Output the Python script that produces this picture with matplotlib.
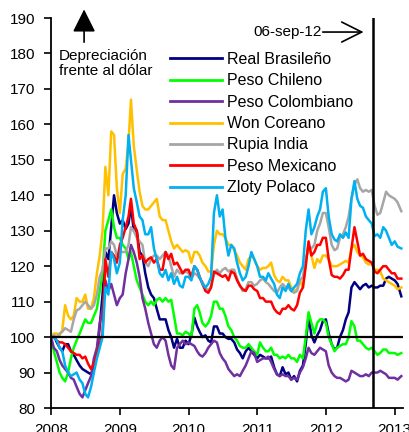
import datetime as dt
import matplotlib
matplotlib.use("Agg")
import matplotlib.pyplot as plt
import matplotlib.dates as mdates

plt.rcParams['font.family'] = ['Liberation Sans', 'DejaVu Sans']

# semi-monthly observations (1st and 16th of each month), index 2-ene-2008 = 100
dates = [dt.date(y, m, d) for y in range(2008, 2013) for m in range(1, 13) for d in (1, 16)]
dates += [dt.date(2013, 1, 1), dt.date(2013, 1, 16), dt.date(2013, 2, 5)]

real_brasileno = [
    100, 100.5, 98.5, 97, 96, 98, 98, 96, 95, 93.5, 92, 91, 90.5, 90, 89.5, 91.5, 95, 103, 112, 124, 122, 131, 140, 135,
    132, 133, 130.5, 132, 137, 130, 130, 124, 123, 118, 114, 112, 111, 108, 105, 105, 105, 102, 100, 97, 99.5, 97, 97, 99,
    98, 100.5, 105.5, 103, 101.5, 100, 100.5, 99, 98.5, 103, 103, 101, 101, 100, 99.5, 99.5, 98.5, 96.5, 95.5, 94, 96, 97, 96, 95,
    94, 95, 94.5, 94, 94, 94.5, 91.5, 89.5, 89, 91.5, 89.5, 90, 88, 89, 87.5, 90.5, 92, 98, 106, 100.5, 98.5, 100.5, 102, 104.5,
    105, 101, 98, 96.5, 97, 100, 102, 105, 107, 114, 115.5, 114.5, 113.5, 114.5, 115, 114, 114.5, 114, 114, 114.5, 114.5, 116.5, 117, 116.5,
    116, 115, 111.5]
peso_chileno = [
    100, 96, 93, 90, 88.5, 87.5, 90, 94, 97, 99, 101, 103, 105, 104, 104, 106, 108, 113, 118, 130, 133, 136, 131, 128,
    128, 126, 125, 122, 124, 120, 116, 114, 112, 110, 109, 110, 109, 110.5, 111, 110, 111, 110, 110.5, 106, 101, 101, 100.5, 101.5,
    101, 100, 108, 109, 107, 104, 103, 104, 106, 110, 110, 108, 108, 106, 103, 102, 100, 99, 97.5, 97, 97, 98, 97, 96,
    95, 98.5, 97, 96, 96, 97, 95, 95, 94, 94.5, 94, 95, 94, 94, 93, 95, 94, 100, 107, 104, 101, 104, 105, 105,
    104, 100, 98, 96, 97, 97.5, 98, 98, 100, 104.5, 103, 99, 99, 98, 97, 96.5, 97, 96, 95, 95.5, 96.5, 96.5, 95.5, 95.5,
    95.5, 95, 95.5]
peso_colombiano = [
    100, 97, 96, 93.5, 92, 91, 90, 88.5, 88, 86, 84, 83, 85, 87, 89, 94, 97, 104, 108, 116, 113, 115, 112, 109,
    111, 112, 118, 122, 126, 124, 121, 117, 111, 108, 104, 101, 98, 97, 99, 100, 99, 95, 92, 91, 97, 98, 99, 98,
    98.5, 98, 97.5, 96, 95, 94.5, 95.5, 97, 98, 99, 98.5, 95.5, 94, 93, 91, 90, 89, 89.5, 89, 90.5, 92, 94, 96, 95.5,
    93, 93.5, 94, 94, 94.5, 93, 91, 89.5, 89, 89.5, 89, 89, 88, 88.5, 88, 90, 91.5, 94, 97, 95.5, 95, 96, 97, 96.5,
    96, 92, 90, 89, 88.5, 88.5, 88, 87.5, 88, 90.5, 90, 89.5, 89, 89, 89.5, 89, 90, 90, 90, 90.5, 90, 89.5, 88.5, 88.5,
    88.5, 88, 89]
won_coreano = [
    100, 101, 101, 100.5, 102, 109, 106, 105, 106, 111, 110, 110, 112, 108, 108, 111, 118, 123, 130, 148, 140, 158, 157, 142,
    135, 146, 147.5, 155, 167, 154, 147, 141, 137, 136, 136, 137, 138, 139, 134, 133, 133, 130, 127, 125, 126, 125, 124, 124.5,
    124, 121, 124, 124, 123, 121, 120, 118.5, 118.5, 126, 130, 129, 129, 128, 126, 126, 124.5, 123, 121, 120, 119, 122, 123, 122,
    120, 119, 119.5, 119.5, 120, 121, 117.5, 116, 115.5, 117, 116, 116, 114, 113, 113.5, 116, 114, 121, 126, 123, 119.5, 122, 121, 123,
    123, 122, 120, 120, 120, 120.5, 121, 121.5, 121, 125, 126, 124, 123, 122.5, 121, 120.5, 121, 119, 119, 118.5, 116.5, 116, 115.5, 115,
    114.5, 113.5, 114]
rupia_india = [
    100, 100.5, 100, 101, 101.5, 102.5, 102, 101.5, 105, 107.5, 108, 109, 110, 109, 108, 109, 112, 117, 119, 125, 125, 127, 126, 123,
    124, 124, 124, 126, 131, 130, 128, 127, 126, 121, 120, 122, 123, 123, 122, 123, 124, 123, 120, 117, 119, 118, 118, 118.5,
    118, 116.5, 118, 117.5, 116.5, 115.5, 114, 113, 114.5, 117.5, 119, 118, 119, 119.5, 118.5, 119, 119, 116.5, 114.5, 113, 113.5, 115.5, 115.5, 114.5,
    115, 116, 116.5, 115.5, 115, 114, 113, 112.5, 114, 115, 114, 114, 113, 112.5, 113, 116, 117, 122, 125, 125, 126, 130, 132, 135,
    135, 131, 126, 124.5, 125, 128, 129, 131, 134, 139, 143, 144.5, 142, 141, 141.5, 141, 141.5, 137, 134.5, 135, 138, 141, 140, 139.5,
    139, 138, 135.5]
peso_mexicano = [
    100, 100, 99, 98.5, 98.5, 98, 97, 96, 95.5, 95, 95, 94, 94.5, 92.5, 91, 92.5, 95, 98, 101, 122, 117, 124, 123, 121,
    126, 128, 131, 134, 139, 132, 130, 122, 123, 121, 122, 122.5, 121, 122, 119, 119, 124, 122, 123.5, 120.5, 121, 119.5, 118, 119,
    119, 117, 120, 119, 117, 115, 113, 112.5, 114, 118.5, 118, 117.5, 117, 117.5, 116, 118.5, 118, 116, 114.5, 113.5, 113, 114.5, 114.5, 113.5,
    113, 111, 111, 110, 110, 110, 108, 107, 106.5, 108, 108, 109, 108, 107.5, 109, 112.5, 114, 120, 127, 123, 124, 126, 126, 128,
    128, 122, 117.5, 117, 117, 116.5, 117.5, 119, 119, 125, 131, 127, 123, 123.5, 122, 121.5, 121, 118.5, 118, 119, 120, 120, 119, 118,
    118, 116.5, 116.5]
zloty_polaco = [
    100, 100, 99, 97, 96, 92, 90, 89, 89.5, 90, 88, 87, 84, 83, 86, 90, 94, 97, 100, 114, 112, 124, 122, 118,
    121, 133, 140, 157, 150, 142, 138, 134, 133, 129, 129, 131, 125, 122, 118, 117, 119, 116, 118, 115, 117, 114.5, 114, 117,
    117, 116, 120, 119, 117, 115, 114, 115, 117, 135, 140, 134, 136, 128, 123, 126, 125, 121, 118, 116, 117, 120, 124, 122,
    120, 117, 117, 116, 118, 116.5, 115, 112, 111, 114, 113, 115, 113, 114, 115, 118, 120, 130, 136, 129, 131, 134, 136, 141,
    142, 134, 129, 127.5, 127, 129, 128, 129.5, 128, 139, 144, 139, 137, 136.5, 134, 133, 132, 128.5, 129, 128, 131, 130, 128, 126,
    127, 125.5, 125]

series_names = ["Real Brasileño", "Peso Chileno", "Peso Colombiano", "Won Coreano",
                "Rupia India", "Peso Mexicano", "Zloty Polaco"]
series_values = [real_brasileno, peso_chileno, peso_colombiano, won_coreano,
                 rupia_india, peso_mexicano, zloty_polaco]
series_colors = ["#000080", "#00FF00", "#7030A0", "#FFC000", "#A6A6A6", "#FF0000", "#00B0F0"]

event_date = dt.date(2012, 9, 6)
event_label = "06-sep-12"
yticks = list(range(80, 191, 10))

fig = plt.figure(figsize=(4.09, 4.32), dpi=100)
ax = fig.add_axes([51/409, 24/432, 352/409, 390/432])

for name, vals, col in zip(series_names, series_values, series_colors):
    ax.plot(dates, vals, color=col, lw=1.8, label=name)

ax.axhline(100, color="black", lw=1.6, zorder=5)
ax.axvline(event_date, color="black", lw=1.8, zorder=5)

ax.set_ylim(80, 190)
ax.set_yticks(yticks)
ax.set_xlim(dt.date(2008, 1, 1), dt.date(2013, 2, 14))
ax.xaxis.set_major_locator(mdates.YearLocator())
ax.xaxis.set_major_formatter(mdates.DateFormatter("%Y"))

for s in ("top", "right"):
    ax.spines[s].set_visible(False)
for s in ("left", "bottom"):
    ax.spines[s].set_linewidth(1.3)
ax.tick_params(axis="both", direction="out", length=5, width=1.2, labelsize=11, colors="black")
ax.tick_params(axis="y", pad=6)
ax.tick_params(axis="x", pad=6)

leg = ax.legend(loc="upper left", bbox_to_anchor=(0.338, 0.913), frameon=False,
                fontsize=11.5, handlelength=3.25, handletextpad=0.33, labelspacing=0.40,
                borderpad=0, borderaxespad=0)
for ln in leg.get_lines():
    ln.set_linewidth(2)

ax.text(0.023, 0.884, "Depreciación\nfrente al dólar", transform=ax.transAxes,
        ha="left", va="center", fontsize=11, linespacing=1.1)
ax.annotate("", xy=(0.094, 1.022), xytext=(0.094, 0.938), xycoords="axes fraction",
            textcoords="axes fraction", annotation_clip=False,
            arrowprops=dict(arrowstyle="-|>,head_length=1.0,head_width=0.5",
                            mutation_scale=14, color="black", lw=1.2, shrinkA=0, shrinkB=0))

ax.text(0.770, 0.964, event_label, transform=ax.transAxes, ha="right", va="center", fontsize=11)
ax.annotate("", xy=(0.888, 0.964), xytext=(0.772, 0.964), xycoords="axes fraction",
            textcoords="axes fraction",
            arrowprops=dict(arrowstyle="->,head_length=0.8,head_width=0.4",
                            mutation_scale=18, color="black", lw=1.2, shrinkA=0, shrinkB=0))

fig.savefig("out.png", dpi=100)
